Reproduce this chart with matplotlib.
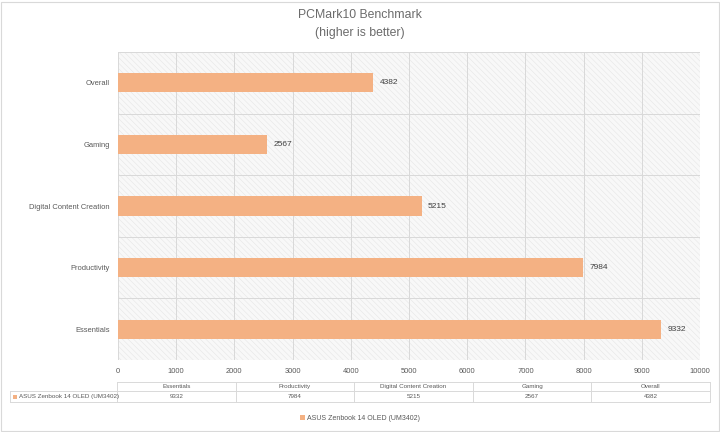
import numpy as np
import matplotlib
matplotlib.use('Agg')
import matplotlib.pyplot as plt
from matplotlib.patches import Rectangle
from matplotlib.lines import Line2D

# values (bottom to top)
cats = ['Essentials', 'Productivity', 'Digital Content Creation', 'Gaming', 'Overall']
vals = [9332, 7984, 5215, 2567, 4382]
series = 'ASUS Zenbook 14 OLED (UM3402)'
xticks = [0, 1000, 2000, 3000, 4000, 5000, 6000, 7000, 8000, 9000, 10000]

bar_col = '#F4B183'
txt_col = '#595959'
grid_col = '#d9d9d9'

plt.rcParams['font.family'] = ['Liberation Sans', 'DejaVu Sans']
plt.rcParams['hatch.linewidth'] = 0.4

fig = plt.figure(figsize=(7.2, 4.32), dpi=100)
ax = fig.add_axes([118/720, 1-360/432, 582/720, 308/432])

# fine hatched plot background
ax.set_facecolor('#f8f8f8')
ax.add_patch(Rectangle((0, 0), 1, 1, transform=ax.transAxes, facecolor='none',
                       edgecolor='#e6e6e6', hatch='\\\\\\\\\\\\', linewidth=0, zorder=0))

y = np.arange(len(cats))
ax.barh(y, vals, height=0.31, color=bar_col, zorder=3)
for yi, v in zip(y, vals):
    ax.text(v + 110, yi, str(v), va='center', ha='left', fontsize=6, color='#404040', zorder=4)

ax.set_xlim(0, 10000)
ax.set_ylim(-0.5, len(cats) - 0.5)
ax.set_xticks(xticks)
ax.set_xticklabels([str(t) for t in xticks])
ax.set_yticks(y)
ax.set_yticklabels(cats)
ax.tick_params(length=0, labelsize=5.4, colors=txt_col, pad=6)
ax.tick_params(axis='x', pad=6)
for xt in xticks:
    ax.axvline(xt, color=grid_col, lw=0.7, zorder=1)
for b in np.arange(-0.5, len(cats), 1):
    ax.axhline(b, color=grid_col, lw=0.7, zorder=1)
for s in ax.spines.values():
    s.set_visible(False)

fig.text(0.5, 1-15/432, 'PCMark10 Benchmark', ha='center', va='center', fontsize=8.8, color='#6b6b6b')
fig.text(0.5, 1-33/432, '(higher is better)', ha='center', va='center', fontsize=8.8, color='#6b6b6b')

# data table under the axis
tr = ax.transAxes
x0, x1 = -1/582, 592/582
y_top, y_mid, y_bot = -22/308, -31/308, -42/308
lab_x = -108/582
cw = (x1 - x0) / len(cats)
lk = dict(transform=tr, color=grid_col, lw=0.7, clip_on=False)
ax.add_line(Line2D([x0, x1], [y_top, y_top], **lk))
ax.add_line(Line2D([lab_x, x1], [y_mid, y_mid], **lk))
ax.add_line(Line2D([lab_x, x1], [y_bot, y_bot], **lk))
ax.add_line(Line2D([lab_x, lab_x], [y_mid, y_bot], **lk))
for i in range(len(cats) + 1):
    ax.add_line(Line2D([x0 + i*cw, x0 + i*cw], [y_top, y_bot], **lk))
for i, (c, v) in enumerate(zip(cats, vals)):
    xc = x0 + (i + 0.5) * cw
    ax.text(xc, (y_top + y_mid)/2, c, transform=tr, ha='center', va='center', fontsize=4.5, color=txt_col)
    ax.text(xc, (y_mid + y_bot)/2, str(v), transform=tr, ha='center', va='center', fontsize=4.5, color=txt_col)
ax.add_patch(Rectangle((lab_x + 3/582, (y_mid + y_bot)/2 - 2/308), 4/582, 4/308, transform=tr,
                       facecolor=bar_col, edgecolor='none', clip_on=False))
ax.text(lab_x + 9/582, (y_mid + y_bot)/2, series, transform=tr, ha='left', va='center',
        fontsize=4.5, color=txt_col)

# legend
h = Rectangle((0, 0), 1, 1, facecolor=bar_col, edgecolor='none')
fig.legend([h], [series], loc='center', bbox_to_anchor=(0.5, 1-418/432), frameon=False,
           fontsize=5.0, handlelength=0.7, handleheight=0.7, handletextpad=0.3, labelcolor=txt_col)

fig.patches.append(Rectangle((1/720, 1/432), 718/720, 429/432, transform=fig.transFigure,
                             facecolor='none', edgecolor=grid_col, lw=0.8))

fig.savefig('out.png', dpi=100, facecolor='white')
